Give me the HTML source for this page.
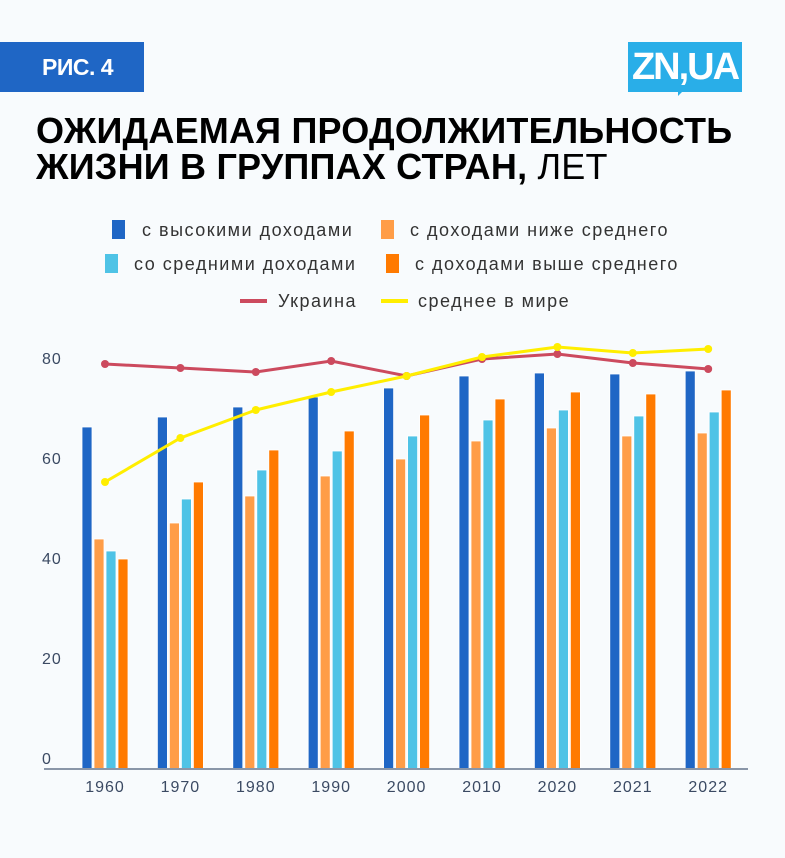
<!DOCTYPE html>
<html><head><meta charset="utf-8"><style>
body{margin:0;width:785px;height:858px;background:#f8fbfd;font-family:"Liberation Sans","Noto Sans CJK SC",sans-serif;position:relative;overflow:hidden}
.a{position:absolute;white-space:nowrap}
.sq{position:absolute;width:13px;height:19px}
.lt{position:absolute;font-size:18px;letter-spacing:1.5px;color:#333;white-space:nowrap;line-height:20px}
</style></head><body>
<div class="a" style="left:0;top:42px;width:144px;height:50px;background:#1f66c5"></div>
<div class="a" style="left:42px;top:54px;color:#fff;font-weight:bold;font-size:23px;letter-spacing:-0.5px">РИС. 4</div>
<div class="a" style="left:628px;top:42px;width:114px;height:50px;background:#29aee8;color:#fff;font-weight:bold;font-size:38px;text-align:center;line-height:50px;letter-spacing:-2px">ZN,UA</div>
<div class="a" style="left:678px;top:90px;width:0;height:0;border-left:6px solid #29aee8;border-right:6px solid transparent;border-bottom:6px solid transparent"></div>
<div class="a" style="left:36px;top:113px;font-size:36px;font-weight:bold;line-height:36px;color:#000;letter-spacing:0.2px">ОЖИДАЕМАЯ ПРОДОЛЖИТЕЛЬНОСТЬ<br>ЖИЗНИ В ГРУППАХ СТРАН, <span style="font-weight:normal">ЛЕТ</span></div>

<div>
<div class="sq" style="left:112px;top:220px;background:#1f66c5"></div>
<div class="lt" style="left:142px;top:220px">с высокими доходами</div>
<div class="sq" style="left:381px;top:220px;background:#ff9d47"></div>
<div class="lt" style="left:410px;top:220px">с доходами ниже среднего</div>
<div class="sq" style="left:105px;top:254px;background:#4fc3e6"></div>
<div class="lt" style="left:134px;top:254px">со средними доходами</div>
<div class="sq" style="left:386px;top:254px;background:#ff7a00"></div>
<div class="lt" style="left:415px;top:254px">с доходами выше среднего</div>
<div class="sq" style="left:240px;top:299px;width:27px;height:4px;background:#cc4a5e"></div>
<div class="lt" style="left:278px;top:291px">Украина</div>
<div class="sq" style="left:381px;top:299px;width:27px;height:4px;background:#ffee00"></div>
<div class="lt" style="left:418px;top:291px">среднее в мире</div>
</div>

<svg id="chart" width="785" height="858" style="position:absolute;left:0;top:0"></svg>
<script>
const categories=["1960","1970","1980","1990","2000","2010","2020","2021","2022"];
const highIncome=[68.4,70.4,72.4,74.4,76.2,78.6,79.2,79,79.6];
const lowerMiddle=[46,49.2,54.6,58.6,62,65.6,68.2,66.6,67.2];
const middleIncome=[43.6,54,59.8,63.6,66.6,69.8,71.8,70.6,71.4];
const upperMiddle=[42,57.4,63.8,67.6,70.8,74,75.4,75,75.8];
const ukraine=[81,80.2,79.4,81.6,78.6,82,83,81.2,80];
const world=[57.4,66.2,71.8,75.4,78.6,82.4,84.4,83.2,84];
const yTicks=[0,20,40,60,80];
const NS="http://www.w3.org/2000/svg";
const svg=document.getElementById('chart');
const y0=769,k=5;
function y(v){return y0-v*k;}
function xc(i){return 105+i*75.4;}
function mk(t,a){const e=document.createElementNS(NS,t);for(const p in a)e.setAttribute(p,a[p]);svg.appendChild(e);return e;}
yTicks.forEach(v=>{const t=mk('text',{x:42,y:y(v)-5,'font-size':16,'letter-spacing':1,fill:'#3b4a63','font-family':'Liberation Sans, sans-serif'});t.textContent=v;

});
const series=[[highIncome,'#1f66c5','bar-high'],[lowerMiddle,'#ff9d47','bar-lower-middle'],[middleIncome,'#4fc3e6','bar-middle'],[upperMiddle,'#ff7a00','bar-upper-middle']];
categories.forEach((c,i)=>{
 series.forEach((s,j)=>{const v=s[0][i];const r=mk('rect',{x:xc(i)-23+j*12,y:y(v),width:10,height:v*k,fill:s[1],stroke:'#ffffff','stroke-width':0.8});
 
 });
 const t=mk('text',{x:xc(i),y:792,'text-anchor':'middle','font-size':16,'letter-spacing':1,fill:'#3b4a63','font-family':'Liberation Sans, sans-serif'});t.textContent=c;
 
 
});
const ax=mk('line',{x1:44,x2:748,y1:y0,y2:y0,stroke:'#8a96a8','stroke-width':2});


[[ukraine,'#cc4a5e','line-ukraine'],[world,'#ffee00','line-world']].forEach(s=>{
 const p=mk('polyline',{points:s[0].map((v,i)=>xc(i)+','+y(v)).join(' '),fill:'none',stroke:s[1],'stroke-width':3});
 
 
 s[0].forEach((v,i)=>{const d=mk('circle',{cx:xc(i),cy:y(v),r:4,fill:s[1]});
 
 });
});
</script>
</body></html>
